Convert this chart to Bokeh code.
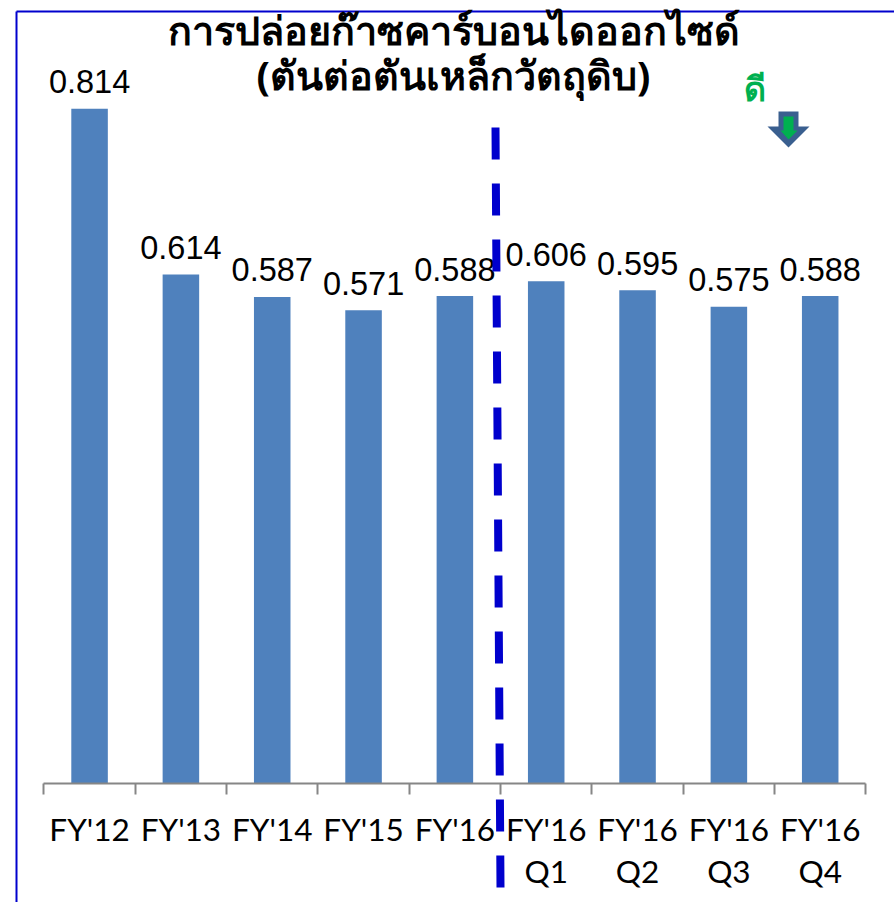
from bokeh.embed import file_html
from bokeh.resources import INLINE
from bokeh.plotting import figure
from bokeh.models import LinearAxis, FixedTicker, Range1d
from bokeh.core.properties import value

categories = ["FY'12", "FY'13", "FY'14", "FY'15", "FY'16", "FY'16", "FY'16", "FY'16", "FY'16"]
quarters = ["Q1", "Q2", "Q3", "Q4"]
emissions = [0.814, 0.614, 0.587, 0.571, 0.588, 0.606, 0.595, 0.575, 0.588]
title_lines = ["การปล่อยก๊าซคาร์บอนไดออกไซด์", "(ตันต่อตันเหล็กวัตถุดิบ)"]
good_label = "ดี"

W, H = 894, 902
STEP = 91.33      # pixels per category
UNIT = 829.0      # pixels per unit of value
X0_IMG, Y0_IMG = 43.4, 783.0

def dx(img_x):
    return 0.5 + (img_x - X0_IMG) / STEP

def dy(img_y):
    return (Y0_IMG - img_y) / UNIT

p = figure(width=W, height=H, output_backend="svg", toolbar_location=None,
           x_range=Range1d(dx(0), dx(W)), y_range=Range1d(dy(H), dy(0)),
           x_axis_location=None, y_axis_location=None, min_border=0)
p.outline_line_color = None
p.grid.visible = False

positions = list(range(1, len(categories) + 1))
quarter_positions = positions[-len(quarters):]
BLUE = "#0000CD"

# frame
p.line([dx(16), dx(16)], [dy(H), dy(11)], line_color=BLUE, line_width=2)
p.line([dx(16), dx(W)], [dy(11), dy(11)], line_color=BLUE, line_width=2)

# bars
p.vbar(x=positions, top=emissions, width=0.4, bottom=0, fill_color="#4F81BD", line_color=None)

# category axis: labels on the categories, ticks between them
cat_axis = LinearAxis(ticker=FixedTicker(ticks=positions, minor_ticks=[i + 0.5 for i in range(0, 10)]),
                      fixed_location=0, bounds=(0.5, 9.5),
                      major_label_overrides={i: t for i, t in zip(positions, categories)},
                      major_label_text_font="Lato", major_label_text_font_size="31.5px",
                      major_label_text_color="#000000", major_label_standoff=15,
                      axis_line_color="#868686", axis_line_width=2,
                      major_tick_line_color=None,
                      minor_tick_line_color="#868686", minor_tick_line_width=2,
                      minor_tick_in=0, minor_tick_out=11)
p.add_layout(cat_axis, "below")

q_axis = LinearAxis(ticker=FixedTicker(ticks=quarter_positions), fixed_location=0,
                    major_label_overrides={i: t for i, t in zip(quarter_positions, quarters)},
                    major_label_text_font="Lato", major_label_text_font_size="31.5px",
                    major_label_text_color="#000000", major_label_standoff=62,
                    axis_line_color=None, major_tick_line_color=None, minor_tick_line_color=None)
p.add_layout(q_axis, "below")

# value labels
p.text(x=positions, y=emissions, text=[f"{v:.3f}" for v in emissions], text_font=value("Liberation Sans"),
       text_font_size="32.5px", text_color="#000000", text_align="center", text_baseline="alphabetic", y_offset=-27)

# separator
p.line([dx(495), dx(500)], [dy(127), dy(887)], line_color=BLUE, line_width=8, line_dash="32 24")

# title
for line, yy in zip(title_lines, [29, 74]):
    p.text(x=[dx(453)], y=[dy(yy)], text=[line], text_font=value("Noto Sans"), text_font_style="bold",
           text_font_size="39.5px", text_color="#000000", text_align="center", text_baseline="alphabetic")

p.text(x=[dx(754)], y=[dy(87)], text=[good_label], text_font=value("Noto Sans"), text_font_style="bold",
       text_font_size="34px", text_color="#00B050", text_align="center", text_baseline="alphabetic")

# "better" arrow
p.patch([dx(v) for v in [778, 798, 798, 809, 788, 767, 778]],
        [dy(v) for v in [111, 111, 126, 126, 147, 126, 126]], fill_color="#3A5F8F", line_color=None)
p.patch([dx(v) for v in [783, 793, 793, 797, 788, 780, 783]],
        [dy(v) for v in [116, 116, 130, 130, 139, 130, 130]], fill_color="#00B050", line_color=None)

open("out.html", "w").write(file_html(p, INLINE))
